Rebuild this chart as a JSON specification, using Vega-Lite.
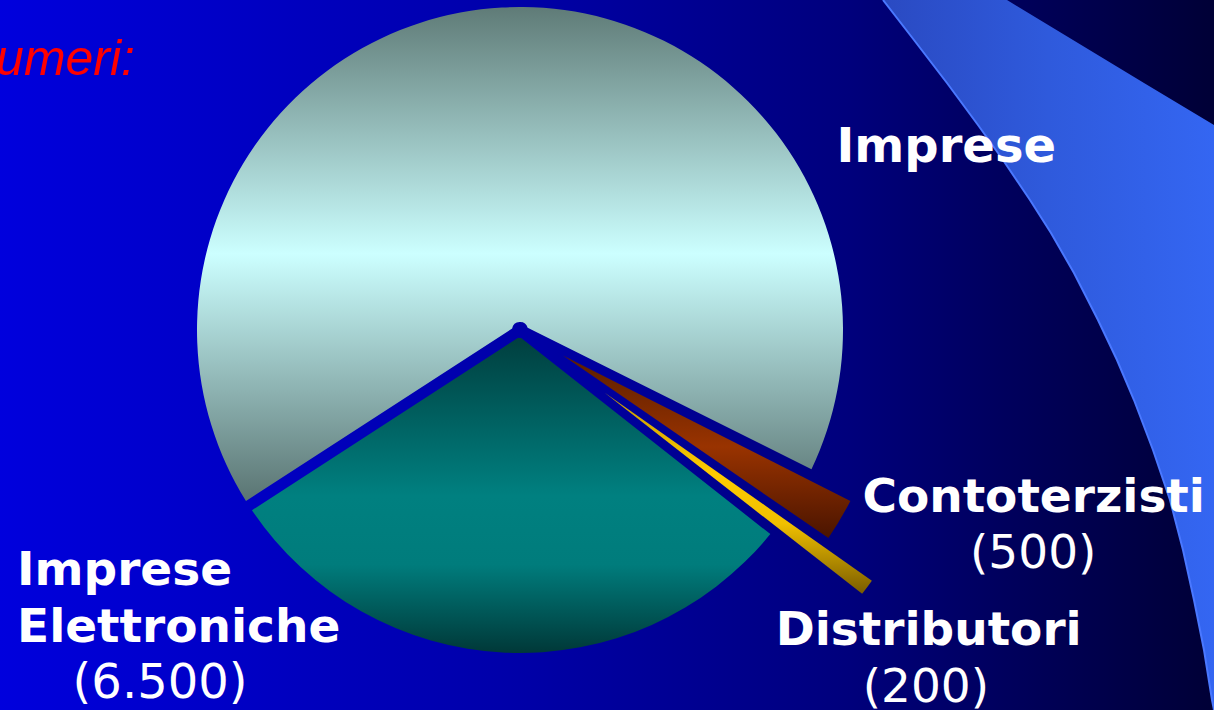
{
  "$schema": "https://vega.github.io/schema/vega-lite/v6.json",
  "width": 1388,
  "height": 760,
  "autosize": {"type": "none"},
  "padding": {"left": -174, "top": -50, "right": 0, "bottom": 0},
  "background": "#000036",
  "config": {"view": {"stroke": null}},
  "datasets": {
    "slices": [
      {"k": "Contoterzisti", "n": 500, "ord": 1},
      {"k": "Distributori", "n": 200, "ord": 2},
      {"k": "Imprese Elettroniche", "n": 6500, "ord": 3},
      {"k": "Imprese", "n": 14300, "ord": 4}
    ],
    "band": [
      {"y": 0, "xl": 883, "xr": 1007},
      {"y": 40, "xl": 914, "xr": 1073},
      {"y": 83, "xl": 947, "xr": 1144},
      {"y": 125, "xl": 978, "xr": 1214},
      {"y": 160, "xl": 1003, "xr": 1214},
      {"y": 200, "xl": 1030, "xr": 1214},
      {"y": 233, "xl": 1051, "xr": 1214},
      {"y": 273, "xl": 1074, "xr": 1214},
      {"y": 320, "xl": 1098, "xr": 1214},
      {"y": 360, "xl": 1117, "xr": 1214},
      {"y": 400, "xl": 1134, "xr": 1214},
      {"y": 450, "xl": 1153, "xr": 1214},
      {"y": 500, "xl": 1170, "xr": 1214},
      {"y": 550, "xl": 1183, "xr": 1214},
      {"y": 600, "xl": 1194, "xr": 1214},
      {"y": 650, "xl": 1204, "xr": 1214},
      {"y": 700, "xl": 1212, "xr": 1214},
      {"y": 710, "xl": 1214, "xr": 1214}
    ]
  },
  "layer": [
    {
      "data": {"values": [{}]},
      "mark": {
        "type": "rect",
        "fill": {
          "gradient": "linear", "x1": 0, "y1": 0, "x2": 1, "y2": 0,
          "stops": [
            {"offset": 0, "color": "#0000f4"},
            {"offset": 0.125, "color": "#0000dd"},
            {"offset": 0.5, "color": "#0000a8"},
            {"offset": 0.738, "color": "#00007c"},
            {"offset": 0.846, "color": "#00005e"},
            {"offset": 1, "color": "#000036"}
          ]
        }
      }
    },
    {
      "data": {"name": "band"},
      "mark": {
        "type": "area",
        "orient": "horizontal",
        "fill": {
          "gradient": "linear", "x1": 0, "y1": 0, "x2": 1, "y2": 0,
          "stops": [
            {"offset": 0, "color": "#2a4ac2"},
            {"offset": 0.5, "color": "#2f5adc"},
            {"offset": 1, "color": "#3466f2"}
          ]
        }
      },
      "encoding": {
        "y": {"field": "y", "type": "quantitative", "scale": {"domain": [-50, 710], "reverse": true, "nice": false, "zero": false}, "axis": null},
        "x": {"field": "xl", "type": "quantitative", "scale": {"domain": [-174, 1214], "nice": false, "zero": false}, "axis": null},
        "x2": {"field": "xr"}
      }
    },
    {
      "data": {"name": "band"},
      "mark": {"type": "line", "color": "#4a78ff", "strokeWidth": 2},
      "encoding": {
        "y": {"field": "y", "type": "quantitative", "scale": {"domain": [-50, 710], "reverse": true, "nice": false, "zero": false}, "axis": null},
        "x": {"field": "xl", "type": "quantitative", "scale": {"domain": [-174, 1214], "nice": false, "zero": false}, "axis": null},
        "order": {"field": "y", "type": "quantitative"}
      }
    },
    {
      "data": {"name": "slices"},
      "mark": {
        "type": "arc", "radius": 323, "radius2": 8, "padAngle": 0.034,
        "fill": {
          "gradient": "linear", "x1": 0, "y1": 0, "x2": 0, "y2": 1,
          "stops": [
            {"offset": 0, "color": "#5f7b77"},
            {"offset": 0.5, "color": "#ccffff"},
            {"offset": 1, "color": "#5a7472"}
          ]
        }
      },
      "encoding": {
        "theta": {"field": "n", "type": "quantitative", "stack": true, "scale": {"range": [2.0333, 8.3165]}},
        "order": {"field": "ord", "type": "quantitative"},
        "opacity": {"condition": {"test": "datum.k === 'Imprese'", "value": 1}, "value": 0}
      }
    },
    {
      "data": {"name": "slices"},
      "mark": {
        "type": "arc", "radius": 323, "radius2": 8, "padAngle": 0.034,
        "fill": {
          "gradient": "linear", "x1": 0, "y1": 0, "x2": 0, "y2": 1,
          "stops": [
            {"offset": 0, "color": "#003f3f"},
            {"offset": 0.5, "color": "#008080"},
            {"offset": 0.72, "color": "#007c7c"},
            {"offset": 1, "color": "#003838"}
          ]
        }
      },
      "encoding": {
        "theta": {"field": "n", "type": "quantitative", "stack": true, "scale": {"range": [2.0333, 8.3165]}},
        "order": {"field": "ord", "type": "quantitative"},
        "opacity": {"condition": {"test": "datum.k === 'Imprese Elettroniche'", "value": 1}, "value": 0}
      }
    },
    {
      "data": {"name": "slices"},
      "mark": {
        "type": "arc", "radius": 372, "radius2": 50, "padAngle": 0.03,
        "fill": {
          "gradient": "linear", "x1": 0, "y1": 0, "x2": 0, "y2": 1,
          "stops": [
            {"offset": 0, "color": "#5a1e00"},
            {"offset": 0.5, "color": "#993300"},
            {"offset": 1, "color": "#4a1400"}
          ]
        }
      },
      "encoding": {
        "theta": {"field": "n", "type": "quantitative", "stack": true, "scale": {"range": [2.0333, 8.3165]}},
        "order": {"field": "ord", "type": "quantitative"},
        "opacity": {"condition": {"test": "datum.k === 'Contoterzisti'", "value": 1}, "value": 0}
      }
    },
    {
      "data": {"name": "slices"},
      "mark": {
        "type": "arc", "radius": 432, "radius2": 105, "padAngle": 0.02,
        "fill": {
          "gradient": "linear", "x1": 0, "y1": 0, "x2": 0, "y2": 1,
          "stops": [
            {"offset": 0, "color": "#c49a00"},
            {"offset": 0.4, "color": "#ffcc00"},
            {"offset": 0.65, "color": "#f0c000"},
            {"offset": 1, "color": "#7a5c00"}
          ]
        }
      },
      "encoding": {
        "theta": {"field": "n", "type": "quantitative", "stack": true, "scale": {"range": [2.0333, 8.3165]}},
        "order": {"field": "ord", "type": "quantitative"},
        "opacity": {"condition": {"test": "datum.k === 'Distributori'", "value": 1}, "value": 0}
      }
    },
    {
      "data": {"name": "slices"},
      "mark": {"type": "text", "radius": 170, "dx": 326, "dy": 2, "align": "left", "baseline": "alphabetic", "font": "DejaVu Sans", "fontWeight": "bold", "fontSize": 48, "color": "#ffffff"},
      "encoding": {
        "theta": {"field": "n", "type": "quantitative", "stack": true, "scale": {"range": [2.0333, 8.3165]}},
        "order": {"field": "ord", "type": "quantitative"},
        "text": {"condition": {"test": "datum.k === 'Imprese'", "field": "k", "type": "nominal"}, "value": ""}
      }
    },
    {
      "data": {"name": "slices"},
      "mark": {"type": "text", "radius": 260, "dx": -491, "dy": -5, "align": "left", "baseline": "alphabetic", "lineBreak": " ", "lineHeight": 57, "font": "DejaVu Sans", "fontWeight": "bold", "fontSize": 47, "color": "#ffffff"},
      "encoding": {
        "theta": {"field": "n", "type": "quantitative", "stack": true, "scale": {"range": [2.0333, 8.3165]}},
        "order": {"field": "ord", "type": "quantitative"},
        "text": {"condition": {"test": "datum.k === 'Imprese Elettroniche'", "field": "k", "type": "nominal"}, "value": ""}
      }
    },
    {
      "data": {"name": "slices"},
      "transform": [{"calculate": "'(' + replace(format(datum.n, ','), ',', '.') + ')'", "as": "lab"}],
      "mark": {"type": "text", "radius": 368, "dx": -343, "dy": 0, "align": "center", "baseline": "alphabetic", "font": "DejaVu Sans", "fontSize": 48, "color": "#ffffff"},
      "encoding": {
        "theta": {"field": "n", "type": "quantitative", "stack": true, "scale": {"range": [2.0333, 8.3165]}},
        "order": {"field": "ord", "type": "quantitative"},
        "text": {"condition": {"test": "datum.k === 'Imprese Elettroniche'", "field": "lab", "type": "nominal"}, "value": ""}
      }
    },
    {
      "data": {"name": "slices"},
      "mark": {"type": "text", "radius": 390, "dx": 7, "dy": -17, "align": "left", "baseline": "alphabetic", "font": "DejaVu Sans", "fontWeight": "bold", "fontSize": 47, "color": "#ffffff"},
      "encoding": {
        "theta": {"field": "n", "type": "quantitative", "stack": true, "scale": {"range": [2.0333, 8.3165]}},
        "order": {"field": "ord", "type": "quantitative"},
        "text": {"condition": {"test": "datum.k === 'Contoterzisti'", "field": "k", "type": "nominal"}, "value": ""}
      }
    },
    {
      "data": {"name": "slices"},
      "transform": [{"calculate": "'(' + replace(format(datum.n, ','), ',', '.') + ')'", "as": "lab"}],
      "mark": {"type": "text", "radius": 470, "dx": 109, "dy": -2, "align": "center", "baseline": "alphabetic", "font": "DejaVu Sans", "fontSize": 47, "color": "#ffffff"},
      "encoding": {
        "theta": {"field": "n", "type": "quantitative", "stack": true, "scale": {"range": [2.0333, 8.3165]}},
        "order": {"field": "ord", "type": "quantitative"},
        "text": {"condition": {"test": "datum.k === 'Contoterzisti'", "field": "lab", "type": "nominal"}, "value": ""}
      }
    },
    {
      "data": {"name": "slices"},
      "mark": {"type": "text", "radius": 500, "dx": 7, "dy": 17, "align": "center", "baseline": "alphabetic", "font": "DejaVu Sans", "fontWeight": "bold", "fontSize": 47, "color": "#ffffff"},
      "encoding": {
        "theta": {"field": "n", "type": "quantitative", "stack": true, "scale": {"range": [2.0333, 8.3165]}},
        "order": {"field": "ord", "type": "quantitative"},
        "text": {"condition": {"test": "datum.k === 'Distributori'", "field": "k", "type": "nominal"}, "value": ""}
      }
    },
    {
      "data": {"name": "slices"},
      "transform": [{"calculate": "'(' + replace(format(datum.n, ','), ',', '.') + ')'", "as": "lab"}],
      "mark": {"type": "text", "radius": 560, "dx": -44, "dy": 39, "align": "center", "baseline": "alphabetic", "font": "DejaVu Sans", "fontSize": 47, "color": "#ffffff"},
      "encoding": {
        "theta": {"field": "n", "type": "quantitative", "stack": true, "scale": {"range": [2.0333, 8.3165]}},
        "order": {"field": "ord", "type": "quantitative"},
        "text": {"condition": {"test": "datum.k === 'Distributori'", "field": "lab", "type": "nominal"}, "value": ""}
      }
    },
    {
      "data": {"values": [{}]},
      "mark": {"type": "text", "text": "Numeri:", "dx": -385, "dy": -255, "align": "right", "baseline": "alphabetic", "font": "Liberation Sans", "fontStyle": "italic", "fontSize": 50, "color": "#ff0000"}
    }
  ]
}
